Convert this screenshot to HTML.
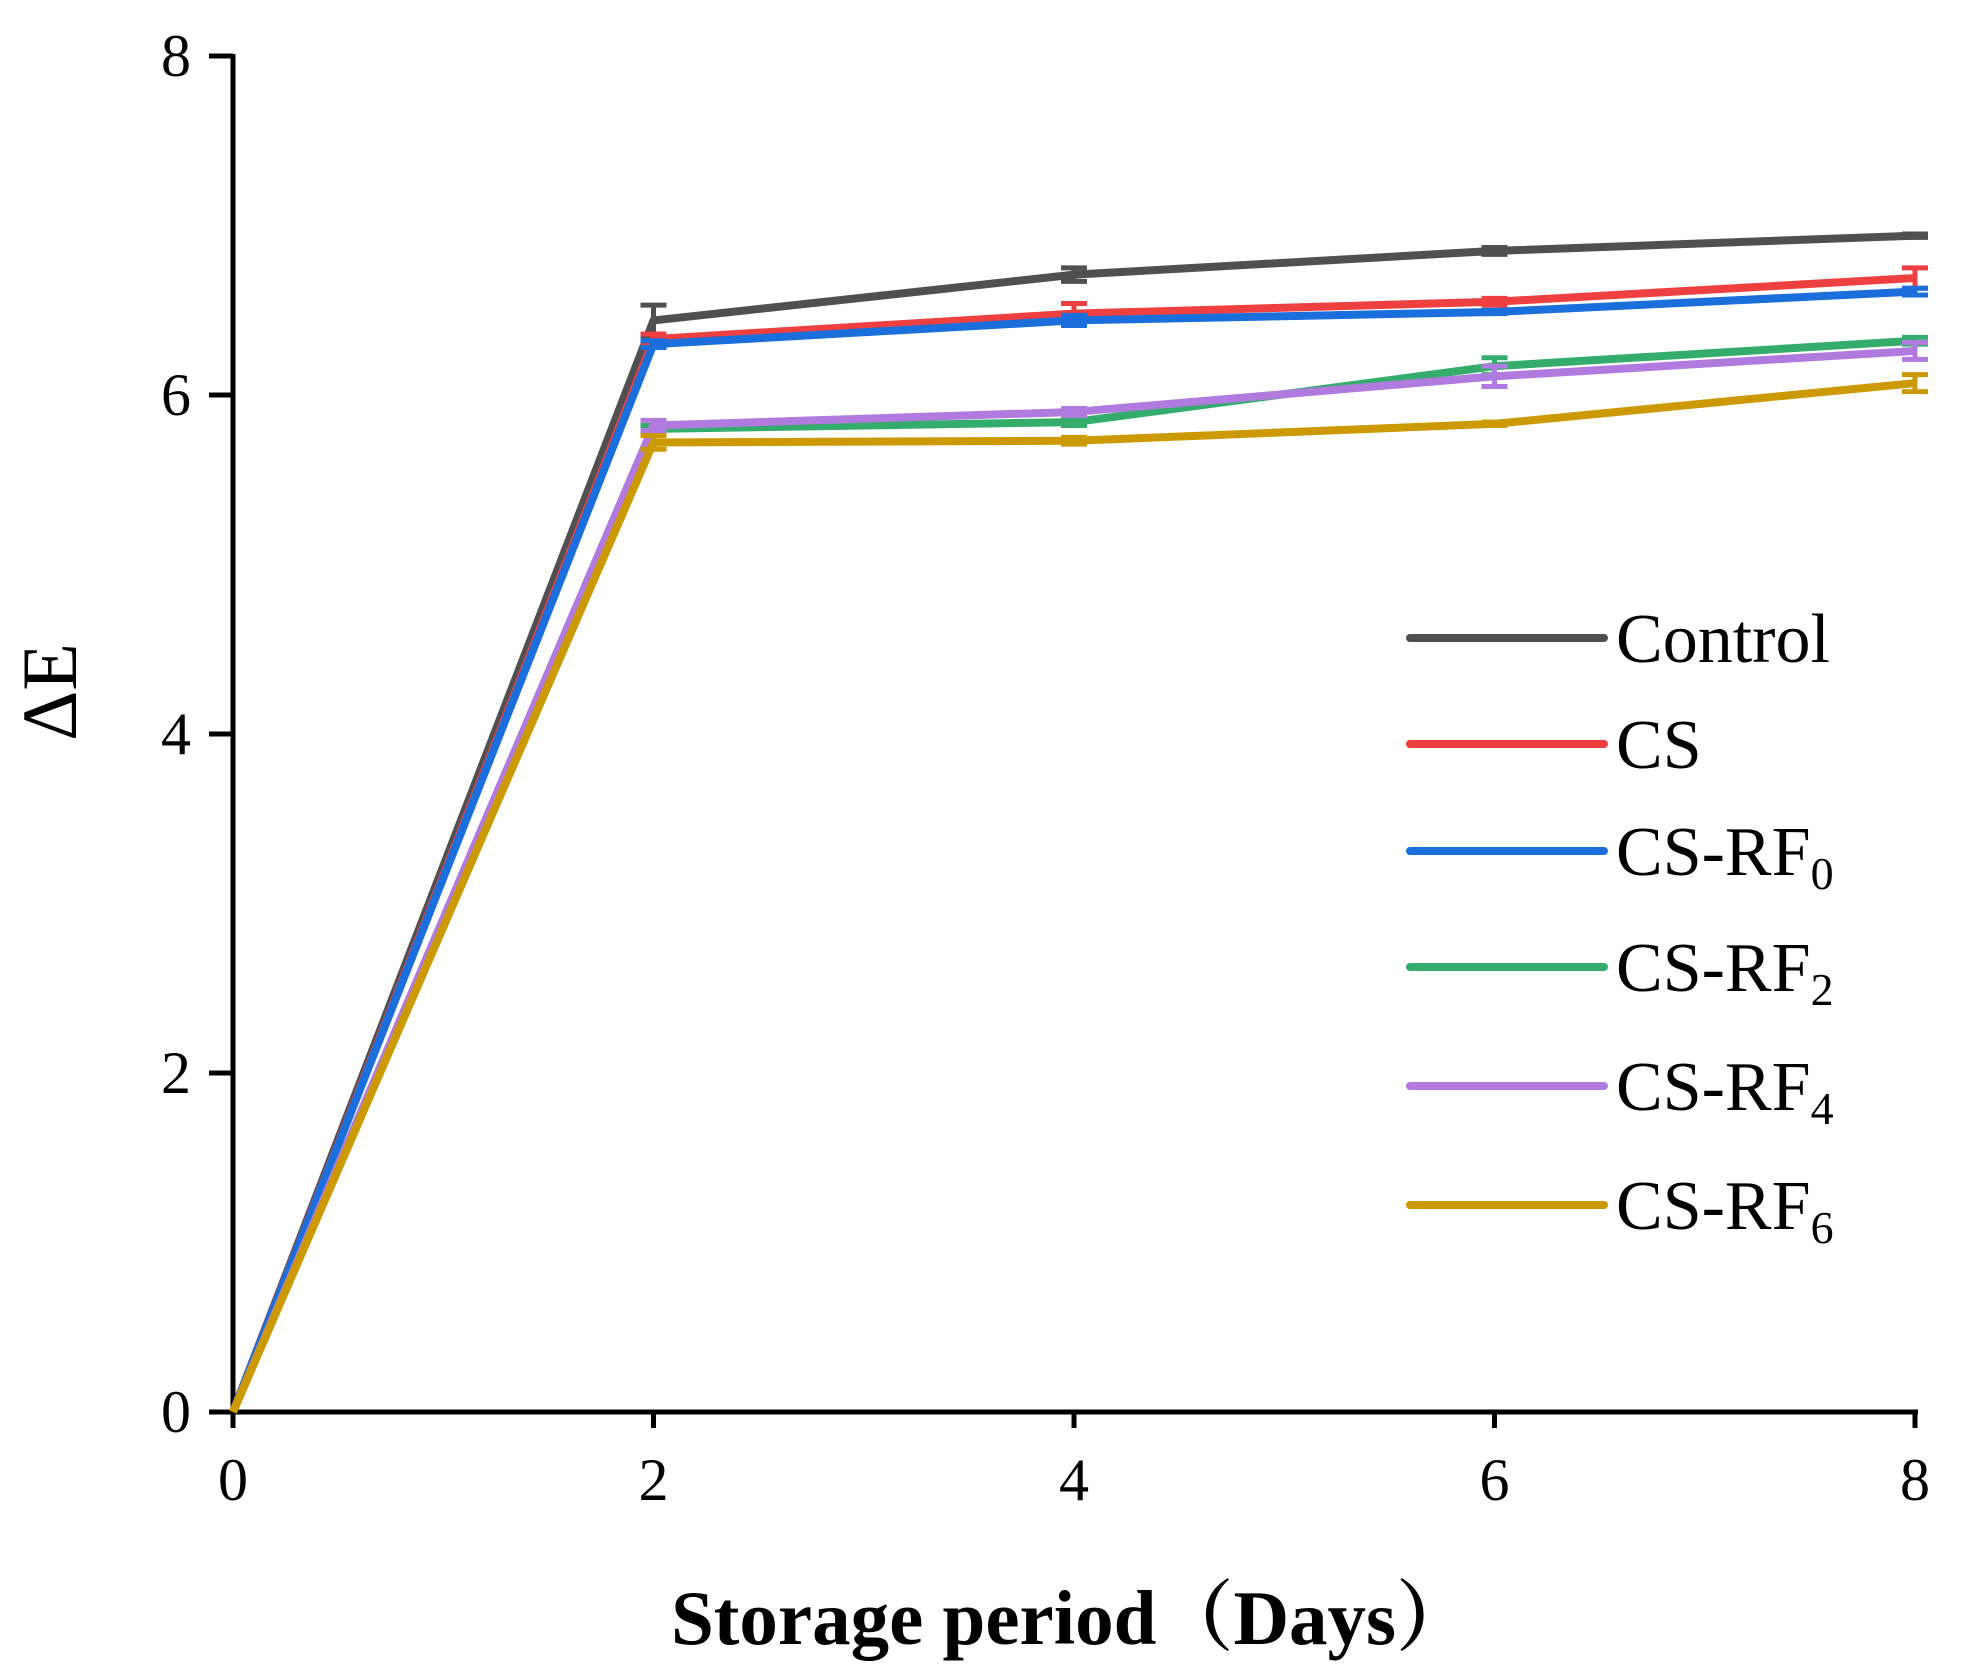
<!DOCTYPE html>
<html><head><meta charset="utf-8"><style>
html,body{margin:0;padding:0;background:#fff}
svg{display:block}
text{font-family:"Liberation Serif",serif;fill:#000}
</style></head><body>
<svg id="chart" width="1961" height="1677" viewBox="0 0 1961 1677" xmlns="http://www.w3.org/2000/svg">
<g id="axes"></g>
<g id="series"></g>
<g id="legend"></g>
<text x="1072" y="1644" text-anchor="middle" font-size="77" font-weight="bold">Storage period<tspan font-family="'Noto Serif CJK SC',serif">（</tspan>Days<tspan font-family="'Noto Serif CJK SC',serif">）</tspan></text>
<text transform="translate(76,692) rotate(-90)" text-anchor="middle" font-size="78">ΔE</text>
</svg>
<script>
const xTicks=[0,2,4,6,8];
const yTicks=[0,2,4,6,8];
const days=[0,2,4,6,8];
const names=["Control","CS","CS-RF0","CS-RF2","CS-RF4","CS-RF6"];
const colors=["#505050","#ee4040","#1a6fdc","#34ad6c","#b07ade","#cc9a00"];
const control=[0,6.44,6.71,6.85,6.94];
const cs=[0,6.33,6.48,6.55,6.69];
const rf0=[0,6.30,6.44,6.49,6.61];
const rf2=[0,5.80,5.84,6.17,6.32];
const rf4=[0,5.82,5.90,6.11,6.26];
const rf6=[0,5.72,5.73,5.83,6.07];
const errControl=[0,0.09,0.04,0.02,0.01];
const errCs=[0,0.03,0.06,0.02,0.06];
const errRf0=[0,0.02,0.03,0.01,0.02];
const errRf2=[0,0.02,0.02,0.05,0.02];
const errRf4=[0,0.03,0.02,0.06,0.05];
const errRf6=[0,0.04,0.02,0.01,0.05];
const allVals=[control,cs,rf0,rf2,rf4,rf6];
const allErr=[errControl,errCs,errRf0,errRf2,errRf4,errRf6];
const X0=233,X1=1915,Y0=1412,Y1=56;
const xs=v=>X0+(v-0)/(8-0)*(X1-X0);
const ys=v=>Y0-(v-0)/(8-0)*(Y0-Y1);
const NS="http://www.w3.org/2000/svg";
function mk(tag,attrs,parent){const e=document.createElementNS(NS,tag);for(const k in attrs)e.setAttribute(k,attrs[k]);parent.appendChild(e);return e;}
const axes=document.getElementById('axes');
let a=mk('line',{x1:X0,y1:Y1-2,x2:X0,y2:Y0+3,stroke:'#000','stroke-width':5},axes);


a=mk('line',{x1:X0-2,y1:Y0,x2:X1+3,y2:Y0,stroke:'#000','stroke-width':5},axes);


yTicks.forEach(t=>{
 const l=mk('line',{x1:X0-24,y1:ys(t),x2:X0,y2:ys(t),stroke:'#000','stroke-width':5},axes);
 
 
 const tx=mk('text',{x:X0-42,y:ys(t)+20,'text-anchor':'end','font-size':60},axes);
 tx.textContent=t;
 
 
});
xTicks.forEach(t=>{
 const l=mk('line',{x1:xs(t),y1:Y0,x2:xs(t),y2:Y0+16,stroke:'#000','stroke-width':5},axes);
 
 
 const tx=mk('text',{x:xs(t),y:Y0+88,'text-anchor':'middle','font-size':60},axes);
 tx.textContent=t;
 
 
});
const sg=document.getElementById('series');
allVals.forEach((vals,i)=>{
 const g=mk('g',{},sg);
 
 
 const p=mk('polyline',{points:vals.map((v,j)=>xs(days[j])+','+ys(v)).join(' '),fill:'none',stroke:colors[i],'stroke-width':8,'stroke-linejoin':'round'},g);
 
 
 vals.forEach((v,j)=>{
  if(j===0)return;
  const e=allErr[i][j],cx=xs(days[j]);
  const eb=mk('path',{d:`M${cx},${ys(v+e)}V${ys(v-e)}M${cx-13},${ys(v+e)}H${cx+13}M${cx-13},${ys(v-e)}H${cx+13}`,stroke:colors[i],'stroke-width':5,fill:'none'},g);
  
  
 });
});
const lg=document.getElementById('legend');
const legY=[638,744,851,967,1086,1205];
const subs=["","","0","2","4","6"];
names.forEach((n,i)=>{
 const g=mk('g',{},lg);
 
 
 mk('line',{x1:1410,y1:legY[i],x2:1604,y2:legY[i],stroke:colors[i],'stroke-width':8,'stroke-linecap':'round'},g);
 const t=mk('text',{x:1628,y:legY[i]+24,'font-size':70},g);
 t.setAttribute('transform','translate(-12,0)');
 if(subs[i]){t.textContent='CS-RF';const s=mk('tspan',{'font-size':46,dy:14},t);s.textContent=subs[i];}
 else t.textContent=n;
});
</script>
</body></html>
